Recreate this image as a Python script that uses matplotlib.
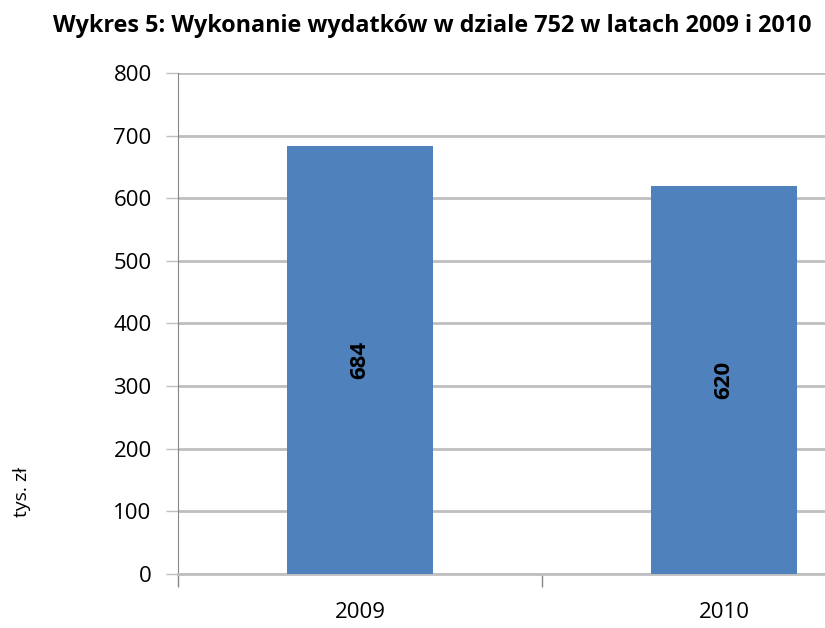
import matplotlib.pyplot as plt

years = ["2009", "2010"]
values = [684, 620]
bar_color = "#4F81BD"

plt.rcParams['font.family'] = ['Open Sans', 'DejaVu Sans']

fig = plt.figure(figsize=(8.25, 6.28), dpi=100)
ax = fig.add_axes([0.2158, 0.086, 0.8824, 0.7978])

x = list(range(len(years)))
bars = ax.bar(x, values, width=0.4, color=bar_color, zorder=3)

for b, v in zip(bars, values):
    ax.text(b.get_x() + b.get_width() / 2, v / 2, str(v), rotation=90,
            ha='center', va='center', fontsize=16, fontweight='bold', color='black', zorder=4)

ax.set_xlim(-0.5, 1.5)
ax.set_ylim(0, 800)
ax.set_yticks(range(0, 801, 100))
ax.set_xticks(x)
ax.set_xticklabels(years)
ax.set_xticks([-0.5, 0.5, 1.5], minor=True)

ax.yaxis.grid(True, color='#BFBFBF', linewidth=2, zorder=0)
ax.tick_params(axis='y', length=9, width=1, color='#BFBFBF', labelsize=16, pad=10)
ax.tick_params(axis='x', which='major', length=0, labelsize=16, pad=20)
ax.tick_params(axis='x', which='minor', length=9, width=1, color='#868686')

for s in ['top', 'right']:
    ax.spines[s].set_visible(False)
ax.spines['left'].set_color('#868686')
ax.spines['bottom'].set_color('#BFBFBF')
ax.spines['bottom'].set_linewidth(2)

fig.text(0.524, 0.958, "Wykres 5: Wykonanie wydatków w dziale 752 w latach 2009 i 2010",
         ha='center', va='center', fontsize=16.8, fontweight='bold')
fig.text(0.027, 0.217, "tys. zł", rotation=90, ha='center', va='center', fontsize=14)

fig.savefig("out.png", dpi=100)
